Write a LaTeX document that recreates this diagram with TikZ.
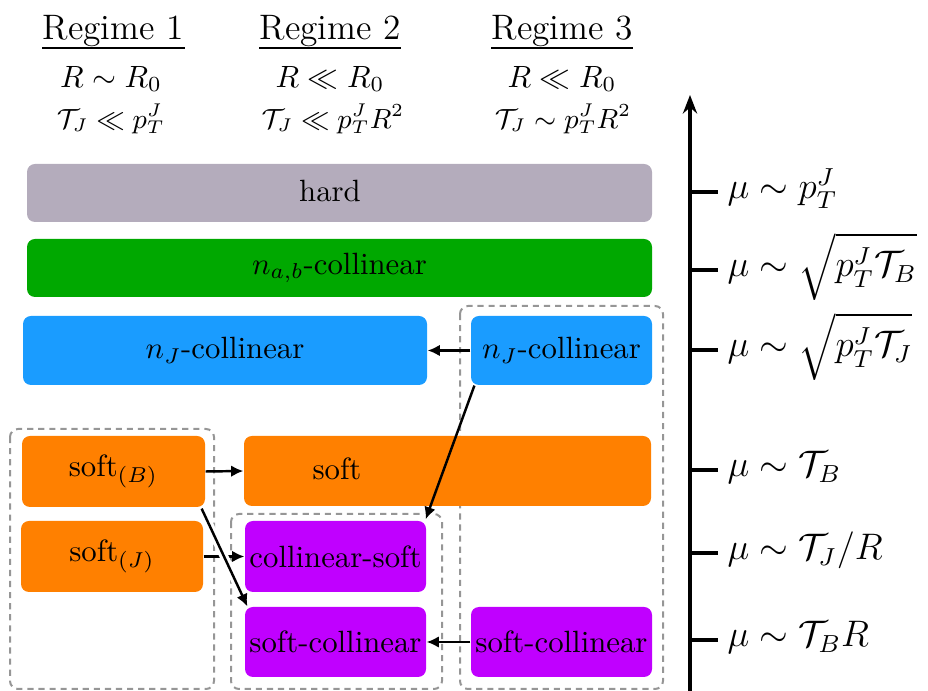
\documentclass[tikz,border=0pt]{standalone}
\usepackage{exscale}
\usetikzlibrary{arrows.meta}
\newdimen\px \px=0.325pt
\definecolor{hardc}{RGB}{180,172,188}
\definecolor{greenc}{RGB}{0,168,0}
\definecolor{bluec}{RGB}{26,156,255}
\definecolor{orangec}{RGB}{255,128,0}
\definecolor{purplec}{RGB}{192,0,255}
\definecolor{dashc}{RGB}{150,150,150}
\tikzset{
  box/.style={rectangle, rounded corners=2.6pt, fill=#1, inner sep=0pt, font=\fontsize{10}{12}\selectfont},
  lbl/.style={inner sep=0pt, font=\fontsize{10}{12}\selectfont},
  grp/.style={draw=dashc, dash pattern=on 2pt off 1.6pt, line width=0.65pt, rounded corners=2.6pt},
  hdr/.style={inner sep=0pt, font=\fontsize{11.5}{14}\selectfont},
  hdrb/.style={inner sep=0pt, font=\fontsize{10.3}{12}\selectfont},
  hdrc/.style={inner sep=0pt, font=\fontsize{9}{11}\selectfont},
  axl/.style={inner sep=0pt, anchor=base west, font=\fontsize{11.8}{14}\selectfont},
  arr/.style={line width=0.8pt, -{Latex[length=4pt,width=3.8pt]}},
  wline/.style={draw=white, line width=2.8pt},
  tick/.style={line width=1.1pt},
}
\newcommand{\tallstrut}{\rule[-5pt]{0pt}{15pt}}
\begin{document}
\begin{tikzpicture}[x=\px, y=-\px]
\useasboundingbox (0,0) rectangle (928,691);
% headers
\node[hdr, anchor=base] (r1) at (113,40) {Regime 1};
\node[hdr, anchor=base] (r2) at (330,40) {Regime 2};
\node[hdr, anchor=base] (r3) at (562,40) {Regime 3};
\draw[line width=0.5pt] (42,48) coordinate (u1a) -- (185,48) coordinate (u1b);
\draw[line width=0.5pt] (259,48) coordinate (u2a) -- (401,48) coordinate (u2b);
\draw[line width=0.5pt] (491,48) coordinate (u3a) -- (633,48) coordinate (u3b);
\node[hdrb] (a1) at (111,79) {$R\sim R_0$};
\node[hdrb] (a2) at (330,79) {$R\ll R_0$};
\node[hdrb] (a3) at (562,79) {$R\ll R_0$};
\node[hdrc] (b1) at (111,119) {$\mathcal{T}_J\ll p_T^J$};
\node[hdrc] (b2) at (333,119) {$\mathcal{T}_J\ll p_T^J R^2$};
\node[hdrc] (b3) at (563,119) {$\mathcal{T}_J\sim p_T^J R^2$};
% dashed groups
\draw[grp] (10,429) rectangle (214,689);
\draw[grp] (231,514) rectangle (442,689);
\draw[grp] (460,306) rectangle (663,689);
% boxes
\node[box=hardc, minimum width=625\px, minimum height=58\px] (hard) at (339.5,193) {};
\node[lbl] (hardt) at (330,191) {hard};
\node[box=greenc, minimum width=625\px, minimum height=58\px] (nab) at (339.5,268) {$n_{a,b}$-collinear};
\node[box=bluec, minimum width=404\px, minimum height=69\px] (njL) at (225,350.5) {$n_J$-collinear};
\node[box=bluec, minimum width=181\px, minimum height=69\px] (njR) at (561.5,350.5) {$n_J$-collinear};
\node[box=orangec, minimum width=183\px, minimum height=71\px] (sB) at (113.5,471.5) {soft$_{(B)}$};
\node[box=orangec, minimum width=407\px, minimum height=70\px] (soft) at (447.5,471) {};
\node[lbl] (softt) at (337,469) {soft};
\node[box=orangec, minimum width=182\px, minimum height=71\px] (sJ) at (112,556.5) {soft$_{(J)}$};
\node[box=purplec, minimum width=181\px, minimum height=71\px] (cs) at (335.5,556.5) {collinear-soft};
\node[box=purplec, minimum width=181\px, minimum height=70\px] (scL) at (335.5,642) {soft-collinear};
\node[box=purplec, minimum width=181\px, minimum height=70\px] (scR) at (561.5,642) {soft-collinear};
% horizontal arrows
\draw[arr] (njR.west) -- (njL.east);
\draw[arr] (sB.east) -- (soft.west);
\draw[arr] (sJ.east) -- (cs.west);
\draw[arr] (scR.west) -- (scL.east);
% diagonal connectors with white halos in the gaps
\coordinate (d1s) at ([xshift=4\px]njR.south west);
\coordinate (d1e) at ([xshift=-1\px,yshift=1\px]cs.north east);
\coordinate (d2s) at ([xshift=-4\px,yshift=-1\px]sB.south east);
\coordinate (d2e) at ([xshift=3\px]scL.north west);
\begin{scope}
  \clip (400,507) rectangle (460,520);
  \path[wline] (d1s) -- (d1e);
\end{scope}
\begin{scope}
  \clip (206,508) rectangle (244,605);
  \path[wline] (d2s) -- (d2e);
\end{scope}
\draw[arr] (d1s) -- (d1e);
\draw[arr] (d2s) -- (d2e);
% axis
\coordinate (axb) at (690,691);
\coordinate (axt) at (690,95);
\draw[line width=1.2pt, -{Stealth[length=6pt,width=4.6pt]}] (axb) -- (axt);
\draw[tick] (690,192) coordinate (t1a) -- (718,192) coordinate (t1b);
\draw[tick] (690,270) coordinate (t2a) -- (718,270) coordinate (t2b);
\draw[tick] (690,350) coordinate (t3a) -- (718,350) coordinate (t3b);
\draw[tick] (690,470) coordinate (t4a) -- (718,470) coordinate (t4b);
\draw[tick] (690,553) coordinate (t5a) -- (718,553) coordinate (t5b);
\draw[tick] (690,640) coordinate (t6a) -- (718,640) coordinate (t6b);
\node[axl] (t1) at (727,199) {$\mu\sim p_T^J$};
\node[axl] (t2) at (727,277) {$\mu\sim\sqrt{\tallstrut p_T^J\mathcal{T}_B}$};
\node[axl] (t3) at (727,357) {$\mu\sim\sqrt{\tallstrut p_T^J\mathcal{T}_J}$};
\node[axl] (t4) at (727,477) {$\mu\sim\mathcal{T}_B$};
\node[axl] (t5) at (727,560) {$\mu\sim\mathcal{T}_J/R$};
\node[axl] (t6) at (727,647) {$\mu\sim\mathcal{T}_B R$};
\end{tikzpicture}
\end{document}
